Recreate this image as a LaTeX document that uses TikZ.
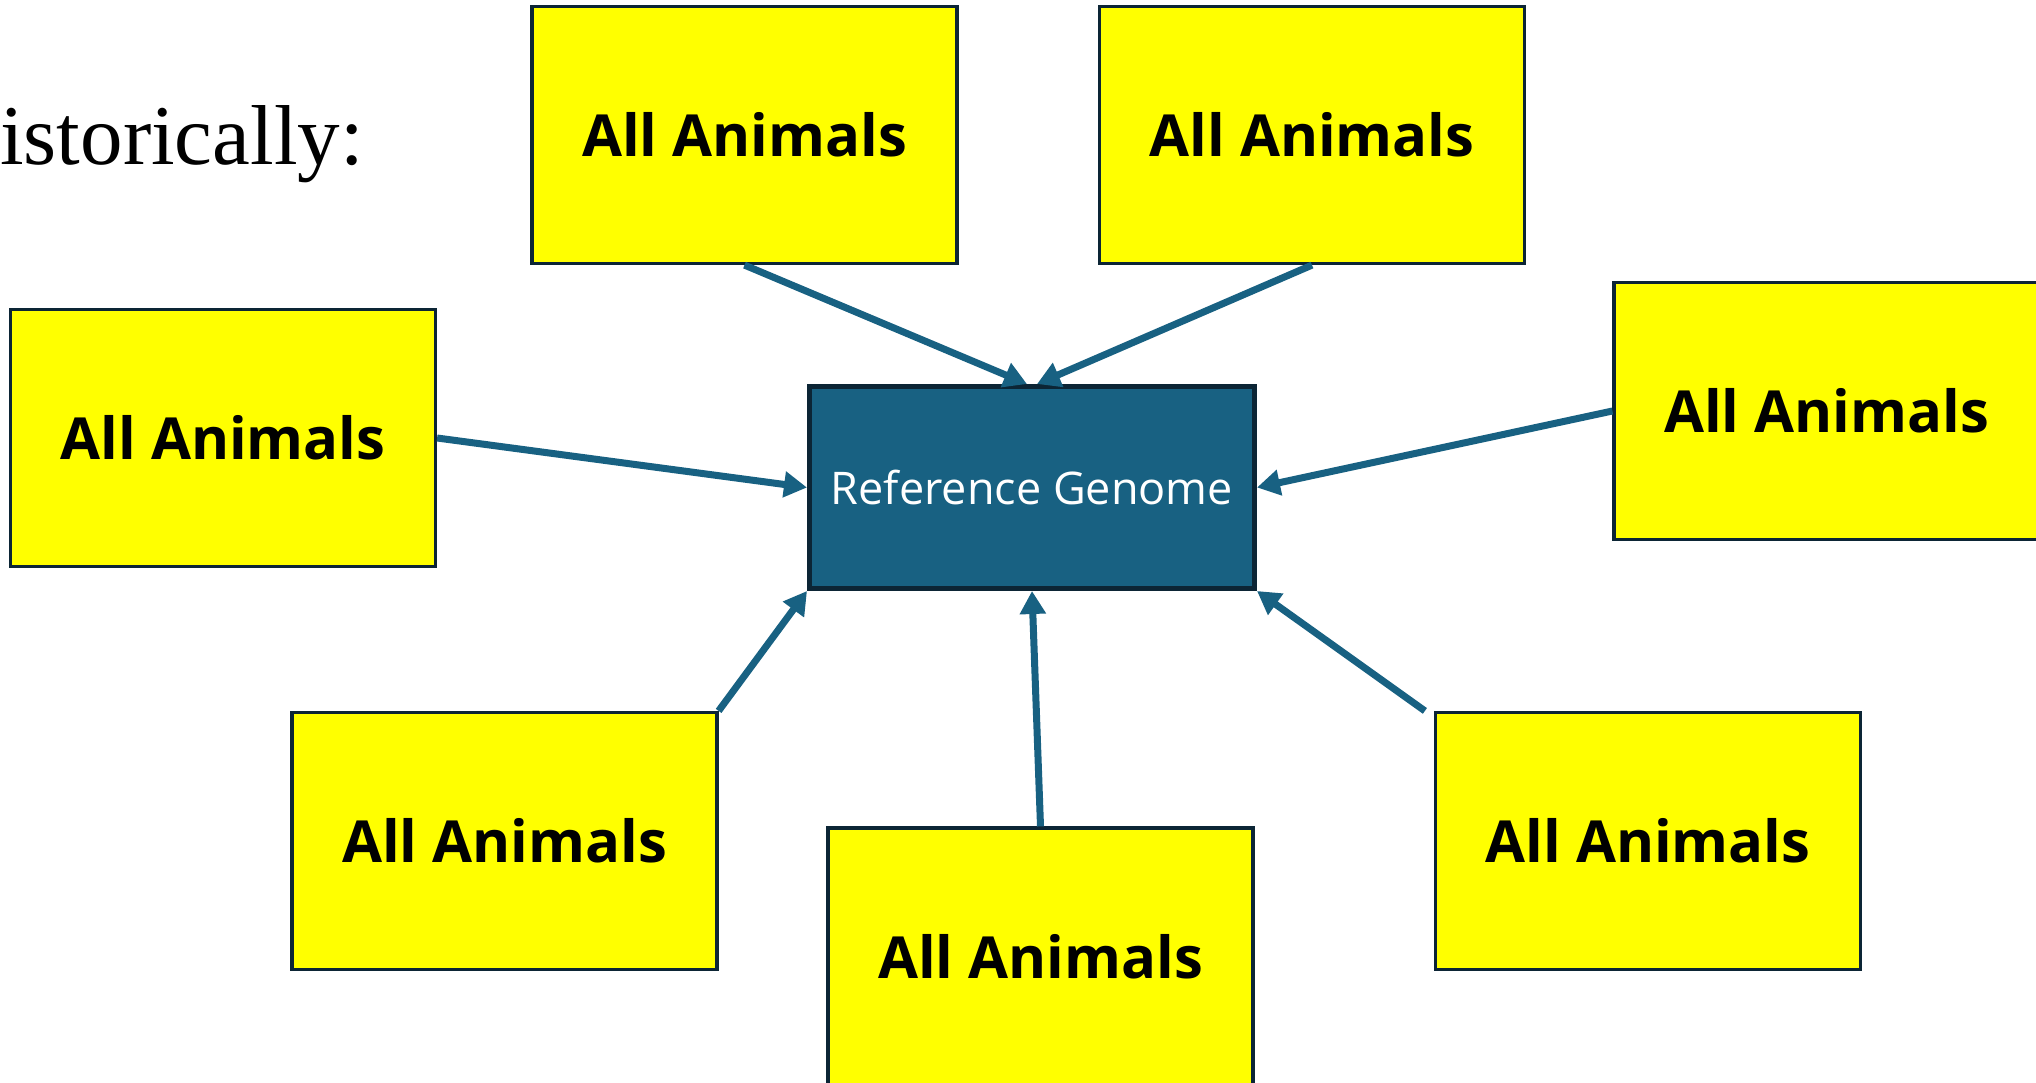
\documentclass[tikz,border=0pt]{standalone}
\usepackage{fontspec}
\setmainfont{Open Sans}
\newfontfamily\headface{Liberation Serif}
\usetikzlibrary{arrows.meta}
\definecolor{genomeblue}{HTML}{186182}
\definecolor{edgenavy}{HTML}{0C2535}
\definecolor{boxyellow}{HTML}{FFFF00}
\tikzset{
  animalbox/.style={draw=edgenavy, line width=3.2pt, fill=boxyellow,
    minimum width=425pt, minimum height=257pt, inner sep=0pt,
    font=\fontsize{58}{60}\selectfont\bfseries},
  genomebox/.style={draw=edgenavy, line width=5pt, fill=genomeblue,
    minimum width=445pt, minimum height=202pt, inner sep=0pt,
    text=white, font=\fontsize{45}{50}\selectfont},
  feed/.style={draw=genomeblue, line width=7pt,
    -{Triangle[length=23pt,width=25pt]}}
}
\begin{document}
\begin{tikzpicture}[x=1pt,y=-1pt]
  \useasboundingbox (0,0) rectangle (2036,1083);
  % heading
  \node[anchor=base west, inner sep=0pt, font=\headface\fontsize{85}{100}\selectfont]
    (heading) at (0,165) {istorically:};
  % sources
  \node[animalbox] (t1) at (744.5,135) {All Animals};
  \node[animalbox] (t2) at (1312,135) {All Animals};
  \node[animalbox] (l)  at (223,438) {All Animals};
  \node[animalbox] (r)  at (1826.5,411) {All Animals};
  \node[animalbox] (bl) at (504.5,841) {All Animals};
  \node[animalbox] (bm) at (1040.5,956.5) {All Animals};
  \node[animalbox] (br) at (1648,841) {All Animals};
  % hub
  \node[genomebox] (c) at (1032,487.5) {Reference Genome};
  % connectors into the hub
  \draw[feed] (t1.south) -- ([xshift=-5pt]c.north);
  \draw[feed] (t2.south) -- ([xshift=5pt]c.north);
  \draw[feed] (l.east) -- (c.west);
  \draw[feed] (r.west) -- (c.east);
  \draw[feed] (bl.north east) -- (c.south west);
  \draw[feed] (bm.north) -- (c.south);
  \draw[feed] ([xshift=-9pt]br.north west) -- (c.south east);
\end{tikzpicture}
\end{document}
